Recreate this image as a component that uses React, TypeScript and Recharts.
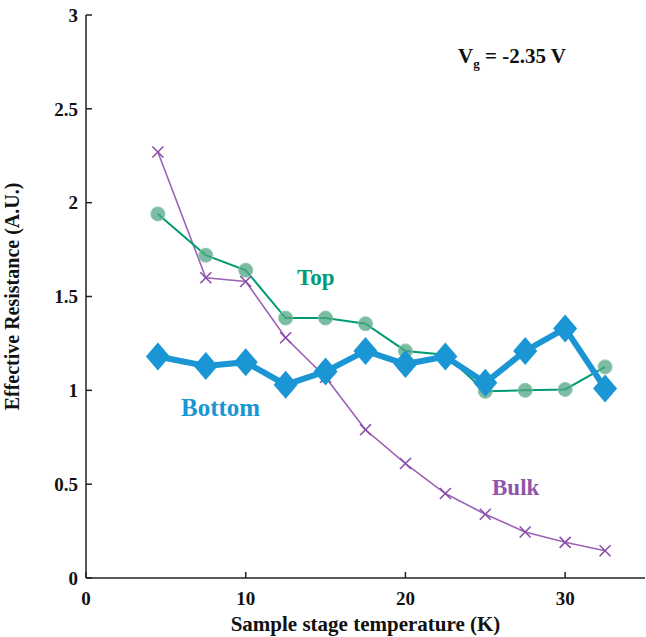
import React from 'react';
import { LineChart, Line, XAxis, YAxis } from 'recharts';

const temps = [4.5, 7.5, 10, 12.5, 15, 17.5, 20, 22.5, 25, 27.5, 30, 32.5];
const bulk = [2.27, 1.6, 1.58, 1.28, 1.07, 0.79, 0.61, 0.45, 0.34, 0.245, 0.19, 0.145];
const top = [1.94, 1.72, 1.64, 1.385, 1.385, 1.355, 1.21, 1.19, 0.995, 1.0, 1.005, 1.125];
const bottom = [1.18, 1.13, 1.15, 1.03, 1.1, 1.21, 1.14, 1.18, 1.04, 1.21, 1.33, 1.01];
const xTicks = [0, 10, 20, 30];
const yTicks = [0, 0.5, 1, 1.5, 2, 2.5, 3];

const data = temps.map((t, i) => ({ t, bulk: bulk[i], top: top[i], bottom: bottom[i] }));

const FONT = '"Liberation Serif", "Times New Roman", serif';
const GREEN = '#009b74';
const BLUE = '#1a96d4';
const PURPLE = '#9b63b5';

const CrossDot = (props: any) => {
  const { cx, cy } = props;
  if (cx == null || cy == null) return null;
  const s = 5.5;
  return (
    <g stroke="#8a4fa6" strokeWidth={1.6}>
      <line x1={cx - s} y1={cy - s} x2={cx + s} y2={cy + s} />
      <line x1={cx - s} y1={cy + s} x2={cx + s} y2={cy - s} />
    </g>
  );
};

const CircleDot = (props: any) => {
  const { cx, cy } = props;
  if (cx == null || cy == null) return null;
  return <circle cx={cx} cy={cy} r={7} fill="#4fa684" fillOpacity={0.75} stroke="#8cc7ad" strokeWidth={1} />;
};

const DiamondDot = (props: any) => {
  const { cx, cy } = props;
  if (cx == null || cy == null) return null;
  const w = 12;
  const h = 14;
  return <polygon points={`${cx},${cy - h} ${cx + w},${cy} ${cx},${cy + h} ${cx - w},${cy}`} fill={BLUE} />;
};

const lbl = (left: number, topPx: number, color: string, size: number, text: React.ReactNode) => (
  <div
    style={{
      position: 'absolute',
      left,
      top: topPx,
      color,
      fontSize: size,
      fontFamily: FONT,
      fontWeight: 'bold',
      whiteSpace: 'nowrap',
      lineHeight: 1,
    }}
  >
    {text}
  </div>
);

export default function App() {
  const tickStyle = { fill: '#111', fontSize: 19, fontFamily: FONT, fontWeight: 'bold' };
  return (
    <div style={{ position: 'absolute', left: 0, top: 0, width: 646, height: 637, background: '#fff' }}>
      <LineChart width={646} height={637} data={data} margin={{ top: 15, right: 1, left: 0, bottom: 0 }}>
        <XAxis
          dataKey="t"
          type="number"
          domain={[0, 35]}
          ticks={xTicks}
          allowDataOverflow
          height={59}
          tickSize={-6}
          tickMargin={20}
          axisLine={{ stroke: '#222', strokeWidth: 1.5 }}
          tickLine={{ stroke: '#222', strokeWidth: 1.5 }}
          tick={tickStyle}
          label={{
            value: 'Sample stage temperature (K)',
            position: 'insideBottom',
            offset: 6,
            style: { fill: '#111', fontSize: 21, fontFamily: FONT, fontWeight: 'bold' },
          }}
        />
        <XAxis
          xAxisId="t"
          orientation="top"
          type="number"
          domain={[0, 35]}
          ticks={xTicks}
          height={0}
          tickSize={-6}
          tick={false}
          axisLine={{ stroke: '#222', strokeWidth: 1.5 }}
          tickLine={{ stroke: '#222', strokeWidth: 1.5 }}
        />
        <YAxis
          type="number"
          domain={[0, 3]}
          ticks={yTicks}
          width={86}
          tickSize={-6}
          tickMargin={14}
          axisLine={{ stroke: '#222', strokeWidth: 1.5 }}
          tickLine={{ stroke: '#222', strokeWidth: 1.5 }}
          tick={tickStyle}
          label={{
            value: 'Effective Resistance (A.U.)',
            angle: -90,
            position: 'insideLeft',
            offset: 12,
            style: { textAnchor: 'middle', fill: '#111', fontSize: 20, fontFamily: FONT, fontWeight: 'bold' },
          }}
        />
        <YAxis
          yAxisId="r"
          orientation="right"
          type="number"
          domain={[0, 3]}
          ticks={yTicks}
          width={0}
          tickSize={-6}
          tick={false}
          axisLine={{ stroke: '#222', strokeWidth: 1.5 }}
          tickLine={{ stroke: '#222', strokeWidth: 1.5 }}
        />
        <Line dataKey="bulk" stroke={PURPLE} strokeWidth={1.6} dot={<CrossDot />} isAnimationActive={false} />
        <Line dataKey="top" stroke={GREEN} strokeWidth={2} dot={<CircleDot />} isAnimationActive={false} />
        <Line dataKey="bottom" stroke={BLUE} strokeWidth={6} dot={<DiamondDot />} isAnimationActive={false} />
      </LineChart>
      {lbl(297, 266, GREEN, 23, 'Top')}
      {lbl(181, 395, BLUE, 25, 'Bottom')}
      {lbl(492, 476, '#8e55a8', 23, 'Bulk')}
      {lbl(458, 46, '#111', 21, (
        <span>
          V<sub style={{ fontSize: 13 }}>g</sub> = -2.35 V
        </span>
      ))}
    </div>
  );
}
